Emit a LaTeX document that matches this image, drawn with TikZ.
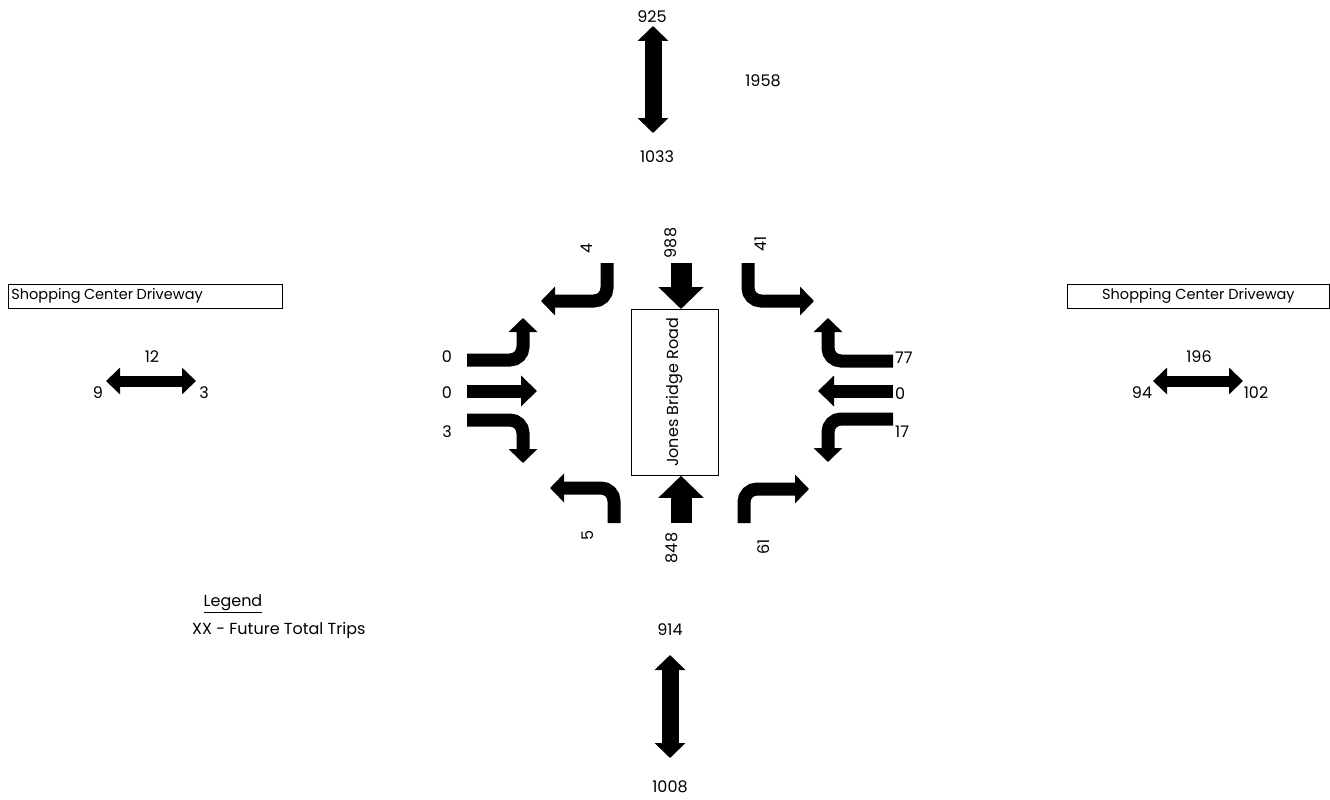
\documentclass[tikz,border=0pt]{standalone}
\usepackage{fontspec}
\setmainfont{Poppins}
\usetikzlibrary{arrows.meta}

\tikzset{
  volume/.style={font=\fontsize{16}{18}\selectfont, inner sep=0pt},
  turnarrow/.style={line width=13pt, rounded corners=13pt, -{Triangle[length=14pt,width=28pt]}},
  thruarrow/.style={line width=13pt, -{Triangle[length=16pt,width=30pt]}},
  mainarrow/.style={line width=21pt, -{Triangle[length=22pt,width=44pt]}},
  twoway/.style={line width=17pt, {Triangle[length=15pt,width=30pt]}-{Triangle[length=15pt,width=30pt]}},
  sideway/.style={line width=11pt, {Triangle[length=14pt,width=26pt]}-{Triangle[length=14pt,width=26pt]}},
  drivebox/.style={draw, line width=0.8pt, minimum width=274pt, minimum height=24pt, inner sep=3pt}
}

\begin{document}
\begin{tikzpicture}[x=1pt, y=-1pt]
  \useasboundingbox (0,0) rectangle (1330,800);

  % road names
  \node[drivebox, anchor=north west, text width=268pt, align=left] (drvW) at (8,284)
    {\fontsize{14.5}{16}\selectfont Shopping Center Driveway};
  \node[drivebox, anchor=north west, minimum width=262pt, align=center] (drvE) at (1067,284)
    {\fontsize{14.5}{16}\selectfont Shopping Center Driveway};
  \node[draw, line width=0.8pt, minimum width=87pt, minimum height=166pt, anchor=north west] (road) at (631,309) {};
  \node[volume, rotate=90] (roadname) at (road.center) {Jones Bridge Road};

  % link volumes
  \draw[twoway] (653,26) -- (653,133);
  \node[volume] (nIn) at (652,17) {925};
  \node[volume] (nOut) at (657,157) {1033};
  \node[volume] (nTot) at (763,81) {1958};
  \draw[twoway] (670,655) -- (670,758);
  \node[volume] (sIn) at (670,630) {914};
  \node[volume] (sOut) at (670,787) {1008};
  \draw[sideway] (106,381) -- (196,381);
  \node[volume] (wTot) at (152,357) {12};
  \node[volume] (wIn) at (98,393) {9};
  \node[volume] (wOut) at (204,393) {3};
  \draw[sideway] (1153,381) -- (1243,381);
  \node[volume] (eTot) at (1199,357) {196};
  \node[volume] (eIn) at (1142,393) {94};
  \node[volume] (eOut) at (1256,393) {102};

  % southbound
  \draw[turnarrow] (607,263) |- (541,301);
  \draw[mainarrow] (681,263) -- (road.north -| 681,0);
  \draw[turnarrow] (748,263) |- (814,301);
  \node[volume, rotate=90] (sbR) at (587,248) {4};
  \node[volume, rotate=90] (sbT) at (671,243) {988};
  \node[volume, rotate=90] (sbL) at (761,244) {41};

  % eastbound
  \draw[turnarrow] (467,360) -| (523,318);
  \draw[thruarrow] (467,391) -- (537,391);
  \draw[turnarrow] (467,420) -| (523,463);
  \node[volume, anchor=east] (ebL) at (452,357) {0};
  \node[volume, anchor=east] (ebT) at (452,393) {0};
  \node[volume, anchor=east] (ebR) at (452,432) {3};

  % westbound
  \draw[turnarrow] (893,361) -| (828,318);
  \draw[thruarrow] (893,391) -- (818,391);
  \draw[turnarrow] (893,419) -| (828,462);
  \node[volume, anchor=west] (wbR) at (895,358) {77};
  \node[volume, anchor=west] (wbT) at (895,394) {0};
  \node[volume, anchor=west] (wbL) at (895,432) {17};

  % northbound
  \draw[turnarrow] (614,523) |- (550,488);
  \draw[mainarrow] (681,523) -- (road.south -| 681,0);
  \draw[turnarrow] (744,523) |- (809,489);
  \node[volume, rotate=90] (nbL) at (588,535) {5};
  \node[volume, rotate=90] (nbT) at (672,548) {848};
  \node[volume, rotate=90] (nbR) at (764,547) {61};

  % legend
  \node[volume] (legTitle) at (233,604) {\underline{Legend}};
  \node[volume, anchor=west] (legItem) at (192,630) {XX - Future Total Trips};
\end{tikzpicture}
\end{document}
